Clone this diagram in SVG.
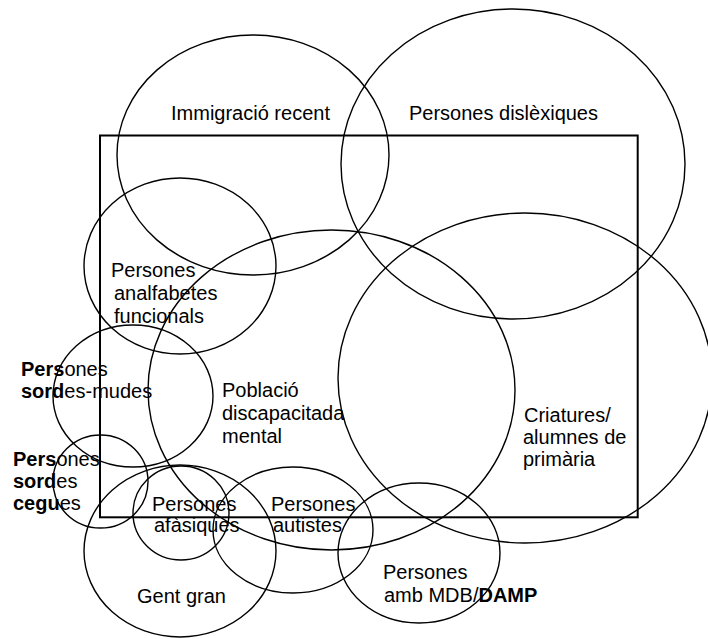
<svg xmlns="http://www.w3.org/2000/svg" width="708" height="639" viewBox="0 0 708 639">
<style>
.s{fill:none;stroke:#000;stroke-width:1.4}
.r{fill:none;stroke:#000;stroke-width:2}
text{font-family:"Liberation Sans",Arial,sans-serif;font-size:20px;fill:#000}
.b{font-weight:bold}
</style>
<rect width="708" height="639" fill="#fff"/>
<g id="marc"><rect class="r" x="100" y="135.5" width="537.7" height="381.8"/></g>
<g id="immigracio"><ellipse class="s" cx="253" cy="155" rx="136" ry="120"/><text x="171" y="120">Immigració recent</text></g>
<g id="dislexiques"><ellipse class="s" cx="513" cy="164" rx="172" ry="155"/><text x="409" y="120">Persones dislèxiques</text></g>
<g id="analfabetes"><ellipse class="s" cx="180" cy="266" rx="96" ry="88"/><text x="111" y="277">Persones</text><text x="114" y="300">analfabetes</text><text x="114" y="323">funcionals</text></g>
<g id="discapacitada"><ellipse class="s" cx="331.5" cy="390" rx="183.5" ry="160"/><text x="222" y="397">Població</text><text x="222" y="420">discapacitada</text><text x="222" y="443">mental</text></g>
<g id="criatures"><ellipse class="s" cx="525" cy="378" rx="187" ry="165"/><text x="524" y="422">Criatures/</text><text x="523" y="444">alumnes de</text><text x="523" y="466">primària</text></g>
<g id="sordes-mudes"><ellipse class="s" cx="133" cy="396" rx="80" ry="71"/><text x="21" y="376"><tspan class="b">Pers</tspan>ones</text><text x="21" y="398"><tspan class="b">sord</tspan>es-mudes</text></g>
<g id="sordes-cegues"><ellipse class="s" cx="100.5" cy="481.5" rx="47.5" ry="46.5"/><text x="13" y="466"><tspan class="b">Pers</tspan>ones</text><text x="13" y="488"><tspan class="b">sord</tspan>es</text><text x="13" y="510"><tspan class="b">cegu</tspan>es</text></g>
<g id="gent-gran"><ellipse class="s" cx="180" cy="551" rx="96" ry="86"/><text x="137" y="603">Gent gran</text></g>
<g id="afasiques"><ellipse class="s" cx="181" cy="513" rx="48" ry="47"/><text x="152" y="511">Persones</text><text x="154" y="532">afàsiques</text></g>
<g id="autistes"><ellipse class="s" cx="293" cy="530" rx="80" ry="63"/><text x="271" y="511">Persones</text><text x="273" y="532">autistes</text></g>
<g id="mdb-damp"><ellipse class="s" cx="419" cy="553" rx="81" ry="70"/><text x="383" y="579">Persones</text><text x="384" y="602">amb MDB/<tspan class="b">DAMP</tspan></text></g>
<g id="connectors"/>
</svg>
